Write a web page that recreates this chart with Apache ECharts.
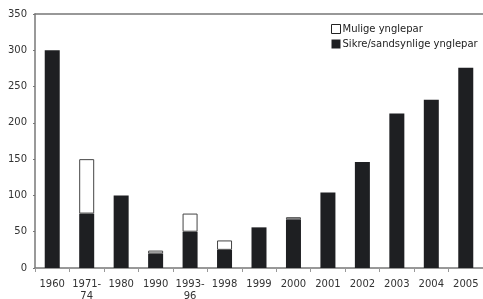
<!DOCTYPE html>
<html><head><meta charset="utf-8">
<script src="https://cdn.jsdelivr.net/npm/echarts@6/dist/echarts.min.js"></script>
<style>html,body{margin:0;padding:0;background:#fff}#c{width:483px;height:299px}</style>
</head><body><div id="c"></div>
<script>
const categories = ['1960','1971-\n74','1980','1990','1993-\n96','1998','1999','2000','2001','2002','2003','2004','2005'];
const sikre = [300,75,100,20,50,25,56,67,104,146,213,232,276];
const mulige = [0,75,0,4,25,13,0,3,0,0,0,0,0];
const yTicks = [0,50,100,150,200,250,300,350];
const nameMulige = 'Mulige ynglepar';
const nameSikre = 'Sikre/sandsynlige ynglepar';

const chart = echarts.init(document.getElementById('c'), null, {renderer:'canvas'});
const font = 'DejaVu Sans';
chart.setOption({
  animation:false,
  textStyle:{fontFamily:font},
  legend:{
    orient:'vertical', left:326, top:19, itemWidth:9, itemHeight:9, itemGap:5,
    data:[
      {name:nameMulige, itemStyle:{color:'#fff',borderColor:'#222',borderWidth:1}},
      {name:nameSikre, itemStyle:{color:'#1e1f22',borderWidth:0}}
    ],
    textStyle:{fontFamily:font,fontSize:10,color:'#222',padding:[0,0,0,-3]},
    icon:'rect'
  },
  grid:{left:35,right:0,top:14,bottom:31,containLabel:false,outerBoundsMode:'none'},
  xAxis:[{
    type:'category', data:categories,
    axisLine:{lineStyle:{color:'#777',width:1.5}},
    axisTick:{show:true,length:4,lineStyle:{color:'#999'}},
    axisLabel:{fontFamily:font,fontSize:10,color:'#333',margin:10,lineHeight:12,interval:0}
  },{
    type:'category', data:categories, position:'top',
    axisLine:{lineStyle:{color:'#777',width:1.5}},
    axisTick:{show:false}, axisLabel:{show:false}
  }],
  yAxis:{
    type:'value', min:0, max:350, interval:50,
    axisLine:{show:true,lineStyle:{color:'#777',width:1.5}},
    axisTick:{show:true,length:2,lineStyle:{color:'#777'}},
    splitLine:{show:false},
    axisLabel:{fontFamily:font,fontSize:10,color:'#333',margin:8,
      formatter:v=>yTicks.includes(v)?String(v):''}
  },
  series:[{
    name:nameSikre, type:'bar', stack:'a', data:sikre, barWidth:15,
    itemStyle:{color:'#1e1f22'}
  },{
    name:nameMulige, type:'bar', stack:'a', data:mulige.map(v=>v===0?'-':v), barWidth:15,
    itemStyle:{color:'#ffffff',borderColor:'#444',borderWidth:1}
  }]
});
</script></body></html>
